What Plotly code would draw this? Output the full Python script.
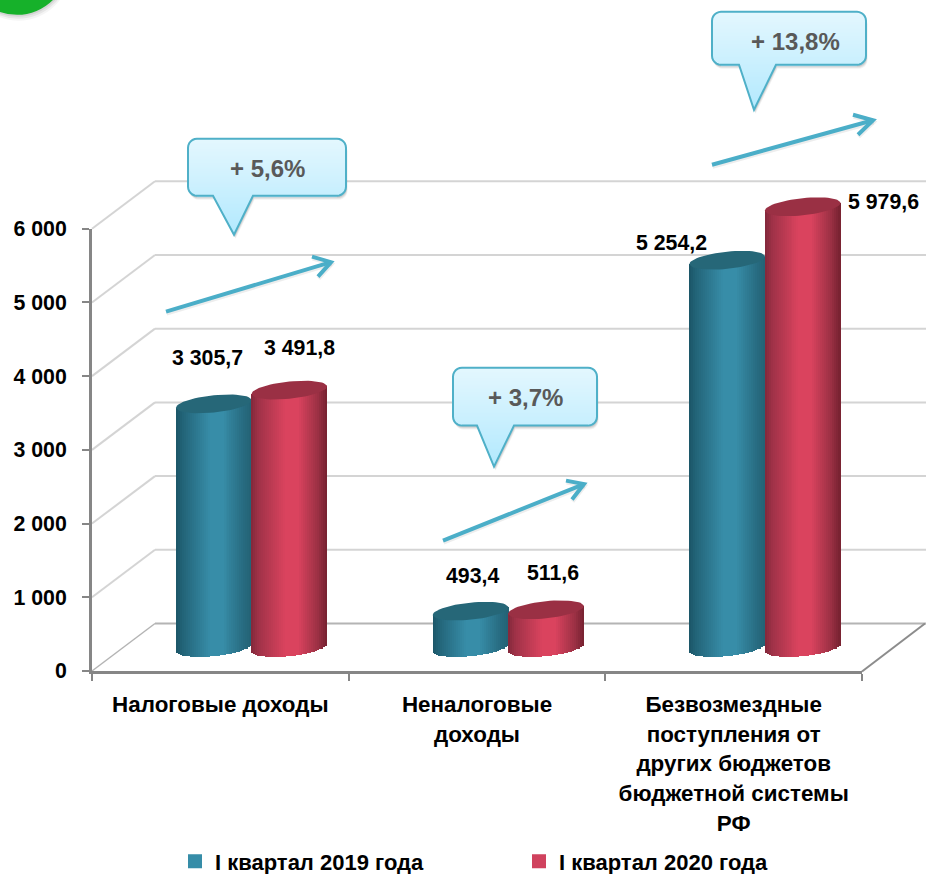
import math
import plotly.graph_objects as go

CATEGORIES = ["Налоговые доходы", "Неналоговые<br>доходы",
              "Безвозмездные<br>поступления от<br>других бюджетов<br>бюджетной системы<br>РФ"]
SERIES_2019 = [3305.7, 493.4, 5254.2]
SERIES_2020 = [3491.8, 511.6, 5979.6]
NAME_2019 = "I квартал 2019 года"
NAME_2020 = "I квартал 2020 года"
Y_TICKS = [0, 1000, 2000, 3000, 4000, 5000, 6000]
Y_LABELS = ["0", "1 000", "2 000", "3 000", "4 000", "5 000", "6 000"]
CALLOUT_TEXT = ["+ 5,6%", "+ 3,7%", "+ 13,8%"]

W, H = 926, 874
L, R, T, B = 92, 862, 229, 671.5
FONT = "Liberation Sans"
PXY = (B - T) / 6000          # pixels per unit
PXX = (R - L) / 3             # pixels per category
SHIFT = 30.5                  # cylinders stand deeper than the front axis
DEPTH_Y = 23.5                # px from front axis to the cylinder base centre
TOP_UNITS = 7000              # the plot area is taller than the visible axis
TOP = B - TOP_UNITS * PXY


def X(px): return (px - L) / (R - L)
def Y(py): return (B - py) / (B - TOP)


def lerp(c1, c2, t):
    return tuple(c1[i] + (c2[i] - c1[i]) * t for i in range(3))


def shade(stops, t):
    for (t0, c0), (t1, c1) in zip(stops, stops[1:]):
        if t <= t1:
            c = lerp(c0, c1, (t - t0) / (t1 - t0))
            return "rgb(%d,%d,%d)" % tuple(round(v) for v in c)
    return "rgb(%d,%d,%d)" % stops[-1][1]


TEAL = [(0, (27, 85, 103)), (.1, (35, 101, 121)), (.45, (55, 141, 168)),
        (.62, (55, 141, 168)), (.9, (39, 107, 128)), (1, (35, 98, 117))]
RED = [(0, (130, 40, 58)), (.1, (160, 50, 72)), (.45, (218, 67, 94)),
       (.62, (218, 67, 94)), (.88, (155, 48, 68)), (1, (118, 33, 48))]

CYL_W = 75.5
A = CYL_W / 2
EB = 8.6
SLOPE = 0.1
N = 38
dx_u = CYL_W / N / PXX
AX_LABELS = [f'<span style="font-size:22.4px">{c.replace("<br>", "</span><br><span style=&quot;font-size:22.4px&quot;>")}</span>'.replace("&quot;", '"')
             for c in CATEGORIES]

fig = go.Figure()
# invisible carrier of the category axis
fig.add_trace(go.Scatter(x=AX_LABELS, y=[0, 0, 0], mode="none", showlegend=False,
                         hoverinfo="skip", xaxis="x", yaxis="y"))


def cylinder(values, name, stops, top_color, offset_px, ax, legend, mid):
    xa, ya = "x" + ax, "y" + ax
    xs = [i + offset_px / PXX for i in range(len(values))]
    # the real bar, carrying the value and the legend entry
    fig.add_trace(go.Bar(x=xs, y=values, width=58 / PXX, name=name,
                         marker=dict(color=mid, line=dict(color=mid, width=2)),
                         xaxis=xa, yaxis=ya, legend=legend, showlegend=True))
    sx, sy, sb, sw, sc = [], [], [], [], []
    for xc, v in zip(xs, values):
        for k in range(N):
            t = (k + .5) / N
            u = 2 * t - 1                # -1..1 across the cylinder
            px_dx = u * A
            tilt = -SLOPE * px_dx
            lower = tilt + EB * math.sqrt(max(0, 1 - u * u))
            sx.append(xc + px_dx / PXX)
            sb.append(-lower / PXY)
            sy.append(v + lower / PXY + (-tilt) / PXY)
            sw.append(dx_u * 1.25)
            sc.append(shade(stops, t))
    fig.add_trace(go.Bar(x=sx, y=sy, base=sb, width=sw, marker=dict(color=sc, line_width=0),
                         xaxis=xa, yaxis=ya, showlegend=False, hoverinfo="skip"))
    # top caps
    for xc, v in zip(xs, values):
        ex, ey = [], []
        for d in range(0, 361, 6):
            a = math.radians(d)
            px_dx = A * math.cos(a)
            px_dy = EB * math.sin(a) - SLOPE * px_dx
            ex.append(xc + px_dx / PXX)
            ey.append(v - px_dy / PXY)
        fig.add_trace(go.Scatter(x=ex, y=ey, mode="lines", fill="toself", fillcolor=top_color,
                                 line=dict(width=0, color=top_color), xaxis=xa, yaxis=ya,
                                 showlegend=False, hoverinfo="skip"))


cylinder(SERIES_2019, NAME_2019, TEAL, "#266778", -37, "2", "legend", "#368DA8")
cylinder(SERIES_2020, NAME_2020, RED, "#9A3044", 38.5, "3", "legend2", "#D0425E")

# ---- layout decoration (in paper coordinates) ----
shapes = []


def line(x0, y0, x1, y1, color, width, layer="below"):
    shapes.append(dict(type="line", xref="paper", yref="paper", x0=X(x0), y0=Y(y0), x1=X(x1), y1=Y(y1),
                       line=dict(color=color, width=width), layer=layer))


# walls and gridlines
for v in Y_TICKS:
    yf = B - v * PXY
    yb = yf - 47.5
    c = "#B4B4B4" if v == 0 else "#D4D4D4"
    line(L, yf, 155, yb, c, 2 if v else 1.5)
    line(155, yb, W + 2, yb, c, 2)
line(R, B + .5, 925, B - 47.5, "#8C8C8C", 2)


def path_px(pts, close=True):
    s = "M" + " L".join(f"{X(a):.5f},{Y(b):.5f}" for a, b in pts)
    return s + (" Z" if close else "")


def callout_pts(x0, y0, x1, y1, t0, t1, tip, r=9):
    pts = []
    def arc(cx, cy, a0):
        for k in range(0, 7):
            a = math.radians(a0 + k * 15)
            pts.append((cx + r * math.cos(a), cy + r * math.sin(a)))
    arc(x0 + r, y0 + r, 180)
    arc(x1 - r, y0 + r, 270)
    arc(x1 - r, y1 - r, 0)
    pts += [(t1, y1), tip, (t0, y1)]
    arc(x0 + r, y1 - r, 90)
    return pts


def callout(x0, y0, x1, y1, t0, t1, tip):
    pts = callout_pts(x0, y0, x1, y1, t0, t1, tip)
    # soft shadow
    for off, op in ((4, .05), (3, .07), (2, .09)):
        shapes.append(dict(type="path", xref="paper", yref="paper", layer="above",
                           path=path_px([(a + off * .4, b + off) for a, b in pts]),
                           fillcolor=f"rgba(0,0,0,{op})", line_width=0))
    # gradient body built of horizontal slices
    top, bot = (228, 247, 254), (178, 233, 254)
    yy = y0
    r = 9
    while yy < tip[1]:
        y2 = min(yy + 2, tip[1])
        ym = (yy + y2) / 2
        if ym <= y1:
            inset = 0
            if ym < y0 + r:
                inset = r - math.sqrt(max(0, r * r - (y0 + r - ym) ** 2))
            elif ym > y1 - r:
                inset = r - math.sqrt(max(0, r * r - (ym - y1 + r) ** 2))
            xa, xb = x0 + inset, x1 - inset
        else:
            f = (ym - y1) / (tip[1] - y1)
            xa, xb = t0 + (tip[0] - t0) * f, t1 + (tip[0] - t1) * f
        c = lerp(top, bot, min(1, (ym - y0) / (tip[1] - y0)))
        shapes.append(dict(type="rect", xref="paper", yref="paper", layer="above",
                           x0=X(xa), x1=X(xb), y0=Y(y2 + .4), y1=Y(yy),
                           fillcolor="rgb(%d,%d,%d)" % tuple(round(v) for v in c), line_width=0))
        yy = y2
    shapes.append(dict(type="path", xref="paper", yref="paper", layer="above", path=path_px(pts),
                       line=dict(color="#4FB0C8", width=2), fillcolor="rgba(0,0,0,0)"))


callout(188, 139, 346, 196, 213, 253, (234, 235))
callout(453, 368, 597, 426, 477, 514, (494, 467))
callout(712, 12, 866, 65, 739, 776, (754, 110))


def arrow(x0, y0, x1, y1, a1, a2):
    for off, col in ((2, "rgba(0,0,0,0.07)"), (0, "#4BAEC8")):
        for seg in ([(x0, y0), (x1, y1)], [a1, (x1, y1), a2]):
            shapes.append(dict(type="path", xref="paper", yref="paper", layer="above",
                               path=path_px([(a + off * .3, b + off) for a, b in seg], close=False),
                               line=dict(color=col, width=4)))


arrow(166, 312, 331, 262.5, (312, 257), (318, 277))
arrow(443, 541, 584, 484.5, (566, 481), (572, 500))
arrow(712, 165, 873, 120.5, (853, 115), (858, 135))

# green corner badge
for off, op in ((6, .04), (4, .06), (2, .08)):
    shapes.append(dict(type="circle", xref="paper", yref="paper", layer="above", x0=X(-34), x1=X(68 + off * .5),
                       y0=Y(15 + off), y1=Y(-87), fillcolor=f"rgba(0,0,0,{op})", line_width=0))
shapes.append(dict(type="circle", xref="paper", yref="paper", layer="above", x0=X(-34), x1=X(68),
                   y0=Y(15), y1=Y(-87), fillcolor="#16B12A", line_width=0))

# ---- annotations ----
annotations = []


def fmt(v):
    s = f"{v:,.1f}".replace(",", " ").replace(".", ",")
    return s


LABEL_POS = [(207, 358), (472, 576), (671, 243), (299, 348), (553, 573), (883, 202)]
for (px, py), v in zip(LABEL_POS, SERIES_2019 + SERIES_2020):
    annotations.append(dict(xref="paper", yref="paper", x=X(px), y=Y(py), text=f"<b>{fmt(v)}</b>", showarrow=False,
                            font=dict(family=FONT, size=21.3, color="#000000"), xanchor="center", yanchor="middle"))
for (px, py), t in zip([(267, 169), (525, 398), (795, 42)], CALLOUT_TEXT):
    annotations.append(dict(xref="paper", yref="paper", x=X(px), y=Y(py), text=f"<b>{t}</b>", showarrow=False,
                            font=dict(family=FONT, size=24, color="#595959"), xanchor="center", yanchor="middle"))

hidden = dict(visible=False, fixedrange=True)
x2range = [-0.5 - SHIFT / PXX, 2.5 - SHIFT / PXX]
y2range = [-DEPTH_Y / PXY, TOP_UNITS - DEPTH_Y / PXY]
legfont = dict(family=FONT, size=22, color="#000000", weight="bold")

fig.update_layout(
    width=W, height=H, margin=dict(l=L, r=W - R, t=TOP, b=H - B, pad=0, autoexpand=False),
    paper_bgcolor="white", plot_bgcolor="rgba(0,0,0,0)", barmode="overlay", bargap=0,
    xaxis=dict(type="category", categoryorder="array", categoryarray=AX_LABELS, range=[-0.5, 2.5], tickson="boundaries",
               ticks="outside", ticklen=7, tickwidth=2, tickcolor="#868686", linecolor="#868686", linewidth=3,
               showline=True, showgrid=False, zeroline=False, tickangle=0, ticklabelstandoff=10,
               tickfont=dict(family=FONT, size=23, color="#000000", weight="bold")),
    yaxis=dict(domain=[0, 6000 / TOP_UNITS], range=[0, 6000], tickvals=Y_TICKS, ticktext=Y_LABELS, ticks="outside",
               ticklen=7, tickwidth=2, tickcolor="#868686", linecolor="#868686", linewidth=3, showline=True,
               showgrid=False, zeroline=False, ticklabelstandoff=11,
               tickfont=dict(family=FONT, size=21.3, color="#000000", weight="bold")),
    xaxis2=dict(domain=[0, 1], range=x2range, anchor="y2", **hidden),
    yaxis2=dict(domain=[0, 1], range=y2range, anchor="x2", **hidden),
    xaxis3=dict(domain=[0, 1], range=x2range, anchor="y3", **hidden),
    yaxis3=dict(domain=[0, 1], range=y2range, anchor="x3", **hidden),
    legend=dict(x=X(175), y=Y(841), xanchor="left", yanchor="top", font=legfont, bgcolor="rgba(0,0,0,0)", itemwidth=30),
    legend2=dict(x=X(519), y=Y(841), xanchor="left", yanchor="top", font=legfont, bgcolor="rgba(0,0,0,0)", itemwidth=30),
    shapes=shapes, annotations=annotations,
)
fig.write_html("out.html", config=dict(displayModeBar=False),
               post_script="document.body.style.margin='0';document.body.style.overflow='hidden';")
